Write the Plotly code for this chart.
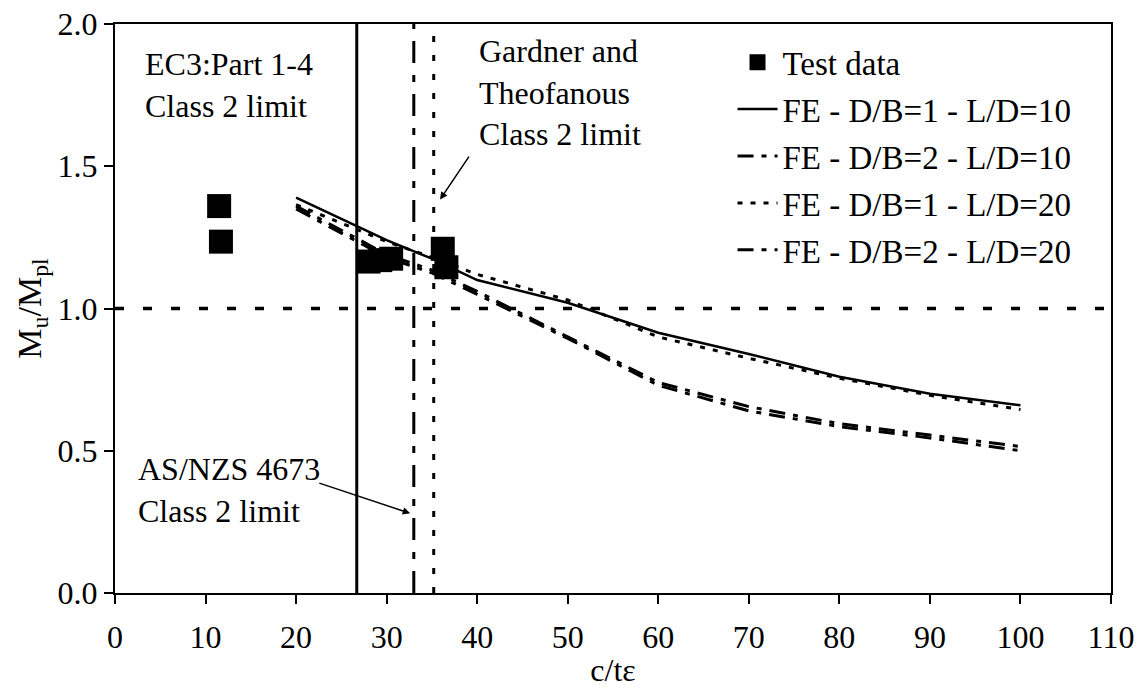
import plotly.graph_objects as go

# ---- data ----
test_x = [11.5, 11.7, 28.0, 29.3, 30.5, 36.2, 36.6]
test_y = [1.36, 1.235, 1.165, 1.17, 1.175, 1.21, 1.145]

fe_x = [20, 25, 30, 35, 40, 50, 60, 70, 80, 90, 100]
fe_db1_ld10 = [1.39, 1.315, 1.24, 1.175, 1.10, 1.02, 0.915, 0.84, 0.76, 0.70, 0.66]
fe_db2_ld10 = [1.36, 1.275, 1.19, 1.135, 1.06, 0.90, 0.74, 0.655, 0.595, 0.555, 0.515]
fe_db1_ld20 = [1.365, 1.30, 1.235, 1.18, 1.12, 1.03, 0.90, 0.825, 0.755, 0.695, 0.645]
fe_db2_ld20 = [1.35, 1.265, 1.18, 1.125, 1.05, 0.895, 0.73, 0.64, 0.585, 0.545, 0.50]

ec3_limit = 26.7
asnzs_limit = 33.0
gardner_limit = 35.2
ref_y = 1.0

x_range = [0, 110]
y_range = [0, 2.0]
x_ticks = [0, 10, 20, 30, 40, 50, 60, 70, 80, 90, 100, 110]
y_ticks = [0.0, 0.5, 1.0, 1.5, 2.0]

FONT = "Liberation Serif"

fig = go.Figure()

fig.add_trace(go.Scatter(x=test_x, y=test_y, mode="markers", name="Test data",
                         marker=dict(symbol="square", size=24, color="black"),
                         legendgroup="a"))
fig.add_trace(go.Scatter(x=fe_x, y=fe_db1_ld10, mode="lines", name="FE - D/B=1 - L/D=10",
                         line=dict(color="black", width=2.5), legendgroup="b"))
fig.add_trace(go.Scatter(x=fe_x, y=fe_db2_ld10, mode="lines", name="FE - D/B=2 - L/D=10",
                         line=dict(color="black", width=3, dash="16px,8px,5px,8px"),
                         legendgroup="c"))
fig.add_trace(go.Scatter(x=fe_x, y=fe_db1_ld20, mode="lines", name="FE - D/B=1 - L/D=20",
                         line=dict(color="black", width=3, dash="5px,8px"), legendgroup="d"))
fig.add_trace(go.Scatter(x=fe_x, y=fe_db2_ld20, mode="lines", name="FE - D/B=2 - L/D=20",
                         line=dict(color="black", width=3, dash="16px,8px,5px,8px"),
                         legendgroup="e"))

# reference lines
fig.add_shape(type="line", x0=ec3_limit, x1=ec3_limit, y0=y_range[0], y1=y_range[1],
              line=dict(color="black", width=3))
fig.add_shape(type="line", x0=asnzs_limit, x1=asnzs_limit, y0=y_range[0], y1=y_range[1],
              line=dict(color="black", width=3, dash="22px,12px,7px,12px"))
fig.add_shape(type="line", x0=gardner_limit, x1=gardner_limit, y0=y_range[0], y1=y_range[1],
              line=dict(color="black", width=3, dash="6px,13px"))
fig.add_shape(type="line", x0=x_range[0], x1=x_range[1], y0=ref_y, y1=ref_y,
              line=dict(color="black", width=3.5, dash="9px,19px"))

ann_font = dict(family=FONT, size=32, color="black")
fig.add_annotation(x=3.1, y=1.787, text="EC3:Part 1-4<br>Class 2 limit", showarrow=False,
                   xanchor="left", yanchor="middle", align="left", font=ann_font)
fig.add_annotation(x=40.0, y=1.76, text="Gardner and<br>Theofanous<br>Class 2 limit",
                   showarrow=False, xanchor="left", yanchor="middle", align="left", font=ann_font)
fig.add_annotation(x=2.3, y=0.363, text="AS/NZS 4673<br>Class 2 limit", showarrow=False,
                   xanchor="left", yanchor="middle", align="left", font=ann_font)
# arrows
fig.add_annotation(x=35.9, y=1.383, ax=39.2, ay=1.539, axref="x", ayref="y", text="",
                   showarrow=True, arrowhead=2, arrowsize=1, arrowwidth=1.5, arrowcolor="black")
fig.add_annotation(x=32.6, y=0.280, ax=22.4, ay=0.388, axref="x", ayref="y", text="",
                   showarrow=True, arrowhead=2, arrowsize=1, arrowwidth=1.5, arrowcolor="black")

# note: page body has an 8px margin, so margins are offset by 8px
fig.update_layout(
    width=1147, height=698,
    margin=dict(l=107, r=44, t=16, b=113, autoexpand=False),
    paper_bgcolor="white", plot_bgcolor="white",
    font=dict(family=FONT, size=32, color="black"),
    showlegend=True,
    legend=dict(x=0.62, y=0.982, xanchor="left", yanchor="top",
                bgcolor="rgba(0,0,0,0)", borderwidth=0,
                font=dict(family=FONT, size=33, color="black"),
                tracegroupgap=1, itemwidth=40),
)
fig.update_xaxes(range=x_range, tickvals=x_ticks, ticktext=[str(v) for v in x_ticks],
                 automargin=False, ticklabeloverflow="allow",
                 showgrid=False, zeroline=False, showline=True, linecolor="black", linewidth=2,
                 mirror=True, ticks="outside", ticklen=9, tickwidth=1.5, tickcolor="black",
                 ticklabelstandoff=6,
                 tickfont=dict(family=FONT, size=32),
                 title=dict(text="c/tε", font=dict(family=FONT, size=32), standoff=4))
fig.update_yaxes(range=y_range, tickvals=y_ticks, ticktext=[f"{v:.1f}" for v in y_ticks],
                 automargin=False, ticklabeloverflow="allow",
                 showgrid=False, zeroline=False, showline=True, linecolor="black", linewidth=2,
                 mirror=True, ticks="outside", ticklen=9, tickwidth=1.5, tickcolor="black",
                 tickfont=dict(family=FONT, size=32),
                 title=dict(text="M<sub>u</sub>/M<sub>pl</sub>", font=dict(family=FONT, size=34),
                            standoff=6))

fig.write_html("out.html")
